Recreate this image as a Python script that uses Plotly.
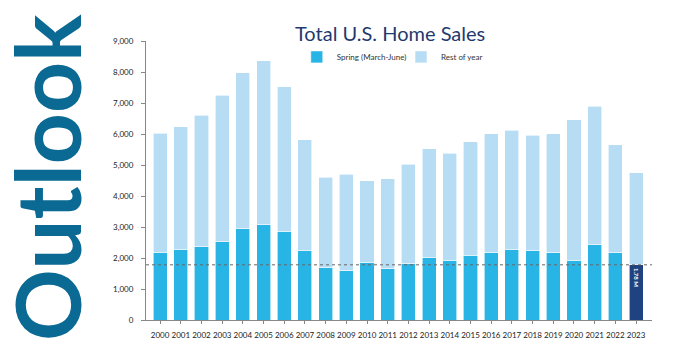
import plotly.graph_objects as go

years = list(range(2000, 2024))
spring = [2190, 2280, 2370, 2530, 2940, 3080, 2860, 2250, 1700, 1590, 1860, 1660,
          1820, 2020, 1920, 2090, 2180, 2280, 2240, 2170, 1920, 2420, 2170, 1780]
total = [6030, 6230, 6600, 7250, 7970, 8360, 7530, 5810, 4600, 4700, 4490, 4560,
         5030, 5520, 5380, 5750, 6010, 6120, 5960, 6010, 6460, 6890, 5650, 4750]
rest_of_year = [t - s for t, s in zip(total, spring)]
y_ticks = [0, 1000, 2000, 3000, 4000, 5000, 6000, 7000, 8000, 9000]
y_tick_labels = ["0", "1,000", "2,000", "3,000", "4,000", "5,000", "6,000", "7,000", "8,000", "9,000"]
ref_level = 1780
ref_label = "1.78 M"

SKY = "#29b4e6"
LIGHT = "#b7ddf5"
NAVY = "#1f4380"
FONT = "Lato"

spring_colors = [SKY] * (len(years) - 1) + [NAVY]

fig = go.Figure()
fig.add_trace(go.Bar(x=years, y=spring, name="Spring (March-June)",
                     marker=dict(color=spring_colors, line=dict(width=0.6, color="white")),
                     width=0.68, legend="legend"))
fig.add_trace(go.Bar(x=years, y=rest_of_year, name="Rest of year",
                     marker=dict(color=LIGHT, line=dict(width=0.6, color="white")),
                     width=0.68, legend="legend2"))

fig.add_shape(type="line", xref="paper", yref="y", x0=0, x1=1, y0=ref_level, y1=ref_level,
              line=dict(color="#666666", width=1, dash="dot"))

fig.add_annotation(x=years[-1], y=ref_level * 0.78, text="<b>" + ref_label + "</b>",
                   textangle=90, showarrow=False, font=dict(family=FONT, size=6, color="white"))

fig.add_annotation(xref="paper", yref="paper", x=0.482, y=1.029, text="Total U.S. Home Sales",
                   showarrow=False, xanchor="center", yanchor="middle",
                   font=dict(family=FONT, size=20, color="#1f3a6e"))

fig.add_annotation(xref="paper", yref="paper", x=-0.198, y=0.512, text="<b>Outlook</b>",
                   textangle=-90, showarrow=False, xanchor="center", yanchor="middle",
                   font=dict(family=FONT, size=89, color="#0b6a93"))

legend_common = dict(orientation="h", yanchor="middle", xanchor="left", y=0.943,
                     font=dict(family=FONT, size=8, color="#333333"), itemwidth=30,
                     bgcolor="rgba(0,0,0,0)")

fig.update_layout(
    width=680, height=356,
    margin=dict(l=138, r=36, t=33, b=44, autoexpand=False),
    barmode="stack",
    bargap=0.3,
    plot_bgcolor="white", paper_bgcolor="white",
    font=dict(family=FONT, size=8, color="#333333"),
    showlegend=True,
    legend=dict(x=0.298, **legend_common),
    legend2=dict(x=0.504, **legend_common),
    xaxis=dict(range=[1999.32, 2023.77], tickmode="array", tickvals=years,
               ticktext=[str(y) for y in years], tickangle=0, automargin=False,
               showgrid=False, showline=True,
               linecolor="#888888", linewidth=1, ticks="outside", ticklen=3,
               tickcolor="#888888", tickfont=dict(size=8, color="#222222"), ticklabelstandoff=4),
    yaxis=dict(range=[0, 9000], tickmode="array", tickvals=y_ticks, ticktext=y_tick_labels,
               automargin=False, showgrid=False, showline=True, linecolor="#888888", linewidth=1,
               ticks="outside", ticklen=4, tickcolor="#888888",
               tickfont=dict(size=8, color="#222222"), ticklabelstandoff=6, zeroline=False),
)

fig.write_html("out.html")
